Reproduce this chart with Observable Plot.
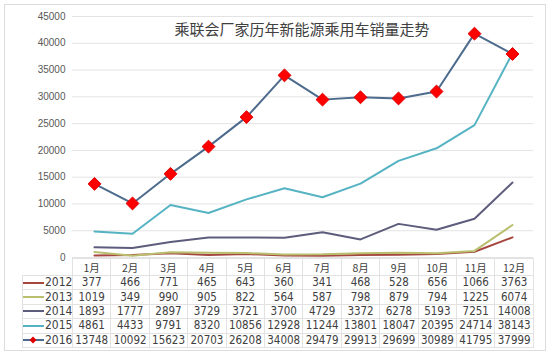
<!DOCTYPE html>
<html><head><meta charset="utf-8">
<script src="https://cdn.jsdelivr.net/npm/d3@7"></script>
<script src="https://cdn.jsdelivr.net/npm/@observablehq/plot@0.6"></script>
<style>
body{margin:0;background:#fff;}
#wrap{position:relative;width:550px;height:356px;overflow:hidden;background:#fff;}
#frame{position:absolute;left:4px;top:4px;width:542px;height:347px;border:1px solid #dcdcdc;box-sizing:border-box;}
#chart{position:absolute;left:0;top:0;}
#title{position:absolute;top:20px;left:27px;width:550px;text-align:center;font-family:"Noto Sans CJK SC",sans-serif;font-size:15px;line-height:18px;color:#404040;}
#tbl{position:absolute;top:258px;left:22px;border-collapse:collapse;table-layout:fixed;font-family:"Liberation Sans Narrow","DejaVu Sans Condensed","Liberation Sans",sans-serif;font-size:11.5px;color:#404040;}
#tbl td{border:1px solid #e2e2e2;padding:0;text-align:center;height:13.4px;line-height:13px;white-space:nowrap;overflow:hidden;}
#tbl tr.hd td{height:16px;font-family:"Noto Sans CJK SC",sans-serif;font-size:10.5px;}
#tbl tr.hd td.blank{border:none;}
#tbl td.lg{text-align:right;padding-right:2px;font-size:12px;}
.sw{display:inline-block;vertical-align:middle;margin-right:1px;}
</style></head>
<body><div id="wrap"><div id="frame"></div><div id="chart"></div><div id="title"></div><table id="tbl"></table></div>
<script>
const title = "乘联会厂家历年新能源乘用车销量走势";
const months = ["1月","2月","3月","4月","5月","6月","7月","8月","9月","10月","11月","12月"];
const years = ["2012","2013","2014","2015","2016"];
const s2012 = [377,466,771,465,643,360,341,468,528,656,1066,3763];
const s2013 = [1019,349,990,905,822,564,587,798,879,794,1225,6074];
const s2014 = [1893,1777,2897,3729,3721,3700,4729,3372,6278,5193,7251,14008];
const s2015 = [4861,4433,9791,8320,10856,12928,11244,13801,18047,20395,24714,38143];
const s2016 = [13748,10092,15623,20703,26208,34008,29479,29913,29699,30989,41795,37999];
const yTicks = [0,5000,10000,15000,20000,25000,30000,35000,40000,45000];
const colors = ["#a5463f","#b9bf6e","#5e5c7c","#55b3c3","#4d6b8c"];
const series = [s2012,s2013,s2014,s2015,s2016];

const data = years.flatMap((yr,i)=>series[i].map((v,j)=>({year:yr, month:months[j], value:v})));

const chart = Plot.plot({
  width:550, height:258,
  marginLeft:72, marginRight:17, marginTop:16, marginBottom:1,
  style:{overflow:"visible", fontFamily:"'Liberation Sans',Arial,sans-serif", fontSize:"10px", color:"#595959", background:"transparent"},
  x:{type:"point", domain:months, padding:0.5, axis:null},
  y:{domain:[0,45000], axis:null},
  color:{domain:years, range:colors},
  marks:[
    Plot.ruleY(yTicks,{stroke:"#e3e3e3", strokeWidth:1}),
    Plot.axisY({ticks:yTicks, tickSize:0, tickPadding:7, tickFormat:d3.format("d"), label:null, fill:"#595959"}),
    Plot.line(data,{x:"month", y:"value", z:"year", stroke:"year", strokeWidth:2, curve:"linear"}),
    Plot.dot(data.filter(d=>d.year==="2016"),{x:"month", y:"value", symbol:"diamond2", r:5.8, fill:"#ff0000", stroke:"#e00000", strokeWidth:1})
  ]
});
document.getElementById("chart").appendChild(chart);
document.getElementById("title").textContent = title;

// data table (acts as x axis + legend)
const tbl = document.getElementById("tbl");
const cg = document.createElement("colgroup");
const c0 = document.createElement("col"); c0.style.width="50px"; cg.appendChild(c0);
const bw = (550-72-17)/months.length;
months.forEach(()=>{const c=document.createElement("col"); c.style.width=bw+"px"; cg.appendChild(c);});
tbl.appendChild(cg);
tbl.style.width = (50+bw*months.length)+"px";
const hd = document.createElement("tr"); hd.className="hd";
const b = document.createElement("td"); b.className="blank"; hd.appendChild(b);
months.forEach(m=>{const td=document.createElement("td"); td.textContent=m; hd.appendChild(td);});
tbl.appendChild(hd);
years.forEach((yr,i)=>{
  const tr=document.createElement("tr");
  const lg=document.createElement("td"); lg.className="lg";
  const marker = i===4 ? `<path d="M10,0.5 L13.5,4 L10,7.5 L6.5,4 Z" fill="#e00000"/>` : "";
  lg.innerHTML = `<svg class="sw" width="21" height="8"><line x1="0" x2="21" y1="4" y2="4" stroke="${colors[i]}" stroke-width="2"/>${marker}</svg>${yr}`;
  tr.appendChild(lg);
  series[i].forEach(v=>{const td=document.createElement("td"); td.textContent=v; tr.appendChild(td);});
  tbl.appendChild(tr);
});
</script></body></html>
